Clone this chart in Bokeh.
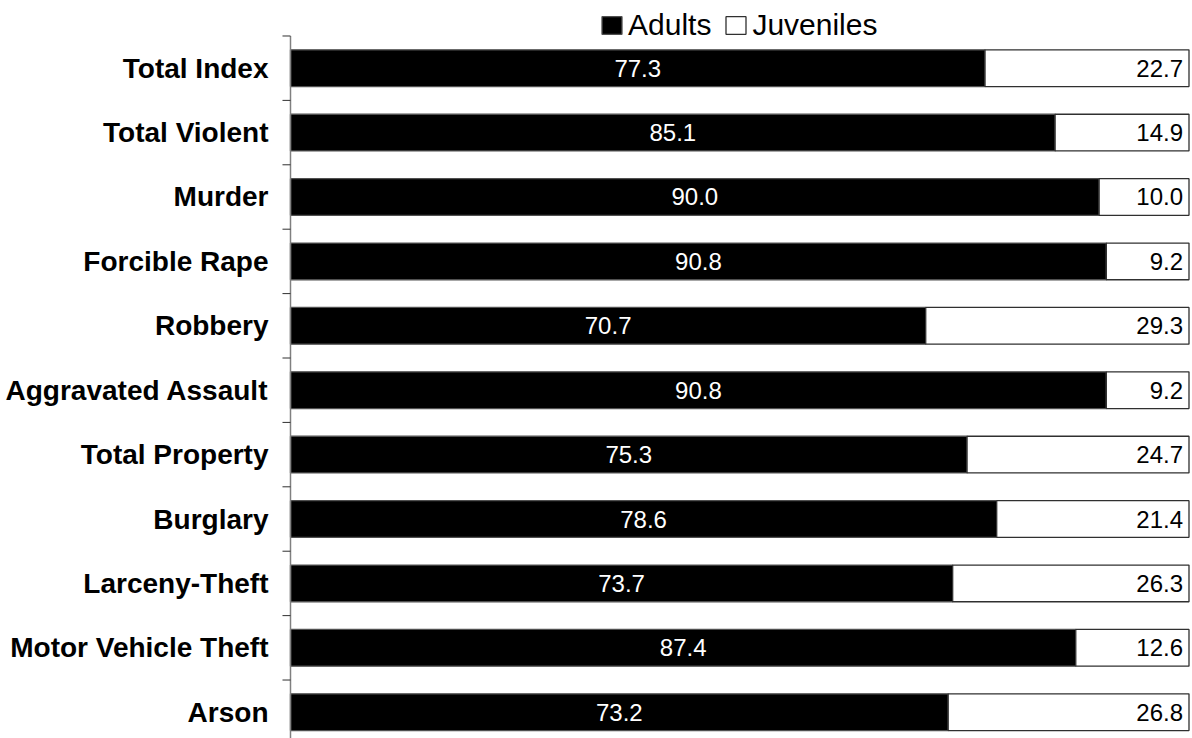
from bokeh.plotting import figure
from bokeh.models import ColumnDataSource, Range1d, Legend, LegendItem
from bokeh.core.properties import value
from bokeh.embed import file_html
from bokeh.resources import INLINE
import math

categories = ["Total Index", "Total Violent", "Murder", "Forcible Rape", "Robbery",
              "Aggravated Assault", "Total Property", "Burglary", "Larceny-Theft",
              "Motor Vehicle Theft", "Arson"]
adults = [77.3, 85.1, 90.0, 90.8, 70.7, 90.8, 75.3, 78.6, 73.7, 87.4, 73.2]
juveniles = [22.7, 14.9, 10.0, 9.2, 29.3, 9.2, 24.7, 21.4, 26.3, 12.6, 26.8]

pos = list(range(len(categories)))
src = ColumnDataSource(dict(
    y=pos, cat=categories, adults=adults, juveniles=juveniles,
    total=[a + j for a, j in zip(adults, juveniles)],
    amid=[a / 2 for a in adults],
    alab=[f"{a:.1f}" for a in adults],
    jlab=[f"{j:.1f}" for j in juveniles],
))

W, H = 1192, 738
p = figure(width=W, height=H, output_backend="svg", toolbar_location=None,
           x_range=Range1d(-32.276, 100.39), y_range=Range1d(10.408, -1.051),
           x_axis_location=None, y_axis_location=None, min_border=0)
p.outline_line_color = None
p.xgrid.visible = False
p.ygrid.visible = False
p.background_fill_color = "white"
p.border_fill_color = "white"

font = value("Liberation Sans")
r_ad = p.hbar(y="y", left=0, right="adults", height=0.57, source=src,
              fill_color="black", line_color="#505050", line_width=1.3)
r_ju = p.hbar(y="y", left="adults", right="total", height=0.57, source=src,
              fill_color="white", line_color="#303030", line_width=1.3)

# axis line and boundary ticks
n = len(categories)
bounds = [i - 0.5 for i in range(n + 1)]
p.segment(x0=0, y0=-0.5, x1=0, y1=n + 0.5, line_color="#808080", line_width=1.5)
p.ray(x=[0] * len(bounds), y=bounds, length=8, length_units="screen", angle=math.pi,
      line_color="#303030", line_width=1)

# category labels
p.text(x=0, y="y", text="cat", source=src, x_offset=-22, text_align="right",
       text_baseline="middle", text_font=font, text_font_style="bold",
       text_font_size="28px", text_color="black")
# value labels
p.text(x="amid", y="y", text="alab", source=src, text_align="center",
       text_baseline="middle", text_font=font, text_font_size="24px",
       text_color="white")
p.text(x="total", y="y", text="jlab", source=src, x_offset=-6, text_align="right",
       text_baseline="middle", text_font=font, text_font_size="24px",
       text_color="black")

legend = Legend(items=[LegendItem(label="Adults", renderers=[r_ad]),
                       LegendItem(label="Juveniles", renderers=[r_ju])],
                orientation="horizontal", location=(599, 696),
                label_text_font="Liberation Sans", label_text_font_size="30px",
                label_text_color="black",
                glyph_width=25, glyph_height=22, label_standoff=4, spacing=12,
                padding=0, margin=0, border_line_color=None,
                background_fill_alpha=0)
p.add_layout(legend, "center")

open("out.html", "w").write(file_html(p, INLINE))
